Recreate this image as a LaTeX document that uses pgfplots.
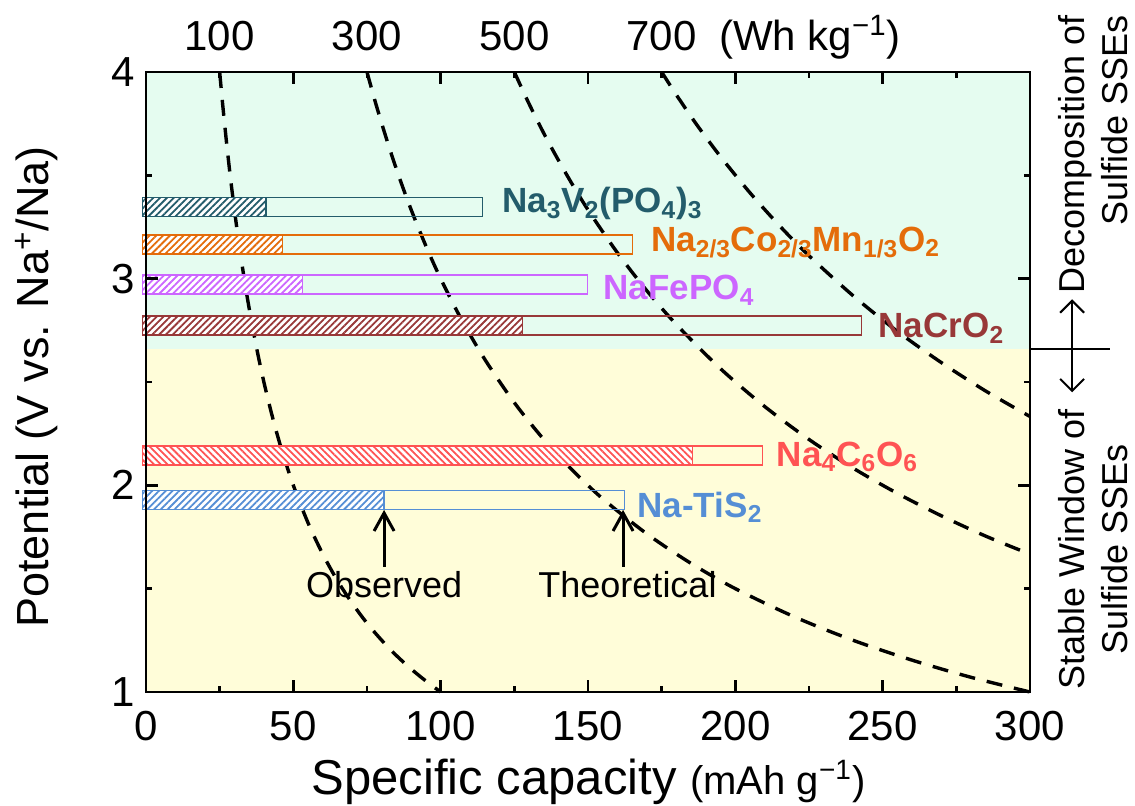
\documentclass[border=0pt]{standalone}
\usepackage{fontspec}
\setmainfont{Liberation Sans}
\usepackage{pgfplots}
\pgfplotsset{compat=1.18}
\usetikzlibrary{patterns.meta,arrows.meta}

\definecolor{bggreen}{HTML}{E5FCF0}
\definecolor{bgyellow}{HTML}{FFFDD9}
\definecolor{cnvp}{HTML}{235C6B}
\definecolor{corange}{HTML}{E46C0A}
\definecolor{cviolet}{HTML}{CC66FF}
\definecolor{cbrown}{HTML}{983838}
\definecolor{cred}{HTML}{FF5353}
\definecolor{cblue}{HTML}{558ED5}

% #1 low, #2 high, #3 observed, #4 theoretical, #5 colour, #6 hatch angle
\newcommand{\capbar}[6]{%
  \addplot[draw=#5, line width=0.6pt] coordinates {(-1.2,#1) (#4,#1) (#4,#2) (-1.2,#2)} -- cycle;
  \addplot[draw=#5, line width=0.6pt, preaction={fill=white},
    pattern={Lines[angle=#6,distance=2.4pt,line width=0.9pt]}, pattern color=#5]
    coordinates {(-1.2,#1) (#3,#1) (#3,#2) (-1.2,#2)} -- cycle;
}

\begin{document}
\begin{tikzpicture}
\path[use as bounding box] (-73pt,-57pt) rectangle (494.5pt,346pt);
\begin{axis}[
  at={(0pt,0pt)}, anchor=south west,
  scale only axis, width=442pt, height=310pt,
  xmin=0, xmax=300, ymin=1, ymax=4,
  xtick={0,50,...,300}, ytick={1,2,3,4},
  minor x tick num=1, minor y tick num=1,
  tick align=inside, major tick length=6pt, minor tick length=3pt,
  axis line style={line width=1.3pt},
  every tick/.style={black, line width=1.3pt},
  tick label style={font=\fontsize{21}{25}\selectfont},
  /pgf/number format/assume math mode=true,
  xticklabel style={yshift=-6pt},
  yticklabel style={xshift=-2pt},
  xlabel={\fontsize{24.5}{28}\selectfont Specific capacity {\fontsize{20}{24}\selectfont(mAh g\textsuperscript{−1})}},
  xlabel style={at={(axis description cs:0.5006,-0.166)}, anchor=base},
  ylabel={\fontsize{22.5}{26}\selectfont Potential (V vs. Na\textsuperscript{+}/Na)},
  ylabel style={at={(axis description cs:-0.110,0.492)}, anchor=base, rotate=0},
  axis on top=true,
  clip=false,
  no marks,
]
% backgrounds
\addplot[fill=bggreen, draw=none] coordinates {(0,2.66) (300,2.66) (300,4) (0,4)} -- cycle;
\addplot[fill=bgyellow, draw=none] coordinates {(0,1) (300,1) (300,2.66) (0,2.66)} -- cycle;

% energy-density curves (V = E / C)
\addplot[black, line width=1.7pt, dash pattern=on 8pt off 6pt, smooth] coordinates {
 (25,4) (26,3.846) (27.5,3.636) (29,3.448) (31,3.226) (33,3.030) (35,2.857) (37.5,2.667)
 (40,2.5) (43,2.326) (46,2.174) (50,2) (55,1.818) (60,1.667) (65,1.538) (70,1.429)
 (75,1.333) (80,1.25) (85,1.176) (90,1.111) (95,1.053) (100,1)};
\addplot[black, line width=1.7pt, dash pattern=on 8pt off 6pt, smooth] coordinates {
 (75,4) (78,3.846) (82,3.659) (86,3.488) (90,3.333) (95,3.158) (100,3) (107,2.804)
 (115,2.609) (125,2.4) (135,2.222) (145,2.069) (155,1.935) (170,1.765) (185,1.622)
 (200,1.5) (220,1.364) (240,1.25) (260,1.154) (280,1.071) (300,1)};
\addplot[black, line width=1.7pt, dash pattern=on 8pt off 6pt, smooth] coordinates {
 (125,4) (130,3.846) (136,3.676) (143,3.497) (150,3.333) (160,3.125) (170,2.941)
 (180,2.778) (195,2.564) (210,2.381) (225,2.222) (240,2.083) (255,1.961) (270,1.852)
 (285,1.754) (300,1.667)};
\addplot[black, line width=1.7pt, dash pattern=on 8pt off 6pt, smooth] coordinates {
 (175,4) (180,3.889) (187,3.743) (195,3.590) (205,3.415) (215,3.256) (225,3.111)
 (240,2.917) (255,2.745) (270,2.593) (285,2.456) (300,2.333)};

% capacity bars
\capbar{3.301}{3.393}{40.7}{114.1}{cnvp}{45}
\capbar{3.119}{3.211}{46.3}{165.0}{corange}{45}
\capbar{2.926}{3.018}{53.2}{149.8}{cviolet}{45}
\capbar{2.727}{2.819}{127.7}{242.9}{cbrown}{45}
\capbar{2.098}{2.190}{185.4}{209.1}{cred}{-45}
\capbar{1.883}{1.975}{80.8}{162.3}{cblue}{45}

% labels
\begin{scope}[every node/.style={inner sep=0pt, anchor=base west, font=\bfseries\fontsize{17.5}{20}\selectfont}]
\node[text=cnvp] at (axis cs:120.7,3.318) {Na\textsubscript{3}V\textsubscript{2}(PO\textsubscript{4})\textsubscript{3}};
\node[text=corange] at (axis cs:171.3,3.130) {Na\textsubscript{2/3}Co\textsubscript{2/3}Mn\textsubscript{1/3}O\textsubscript{2}};
\node[text=cviolet] at (axis cs:155.2,2.897) {NaFePO\textsubscript{4}};
\node[text=cbrown] at (axis cs:248.5,2.713) {NaCrO\textsubscript{2}};
\node[text=cred] at (axis cs:214.0,2.090) {Na\textsubscript{4}C\textsubscript{6}O\textsubscript{6}};
\node[text=cblue] at (axis cs:166.7,1.845) {Na-TiS\textsubscript{2}};
\end{scope}

% observed / theoretical arrows
\draw[line width=1.5pt, -{Straight Barb[length=9pt,width=10pt,line width=1.5pt]}] (axis cs:80.8,1.605) -- (axis cs:80.8,1.881);
\draw[line width=1.5pt, -{Straight Barb[length=9pt,width=10pt,line width=1.5pt]}] (axis cs:161.9,1.605) -- (axis cs:161.9,1.881);
\node[font=\fontsize{18}{21}\selectfont] at (axis cs:80.8,1.52) {Observed};
\node[font=\fontsize{18}{21}\selectfont] at (axis cs:163.4,1.52) {Theoretical};

% top energy labels
\begin{scope}[every node/.style={anchor=base, inner sep=0pt, font=\fontsize{21}{25}\selectfont}]
\node at (axis cs:25,4.105) {100};
\node at (axis cs:75,4.105) {300};
\node at (axis cs:125,4.105) {500};
\node at (axis cs:175,4.105) {700};
\node at (axis cs:225.3,4.105) {(Wh kg\textsuperscript{−1})};
\end{scope}

% right-side annotation
\draw[line width=1pt] (axis cs:300,2.66) -- (axis cs:327.1,2.66);
\draw[line width=1pt, {Straight Barb[length=6pt,width=12pt,line width=1pt]}-{Straight Barb[length=6pt,width=12pt,line width=1pt]}] (axis cs:314.3,2.45) -- (axis cs:314.3,2.90);
\node[rotate=90, anchor=west, align=right, inner sep=0pt, font=\fontsize{18}{21.5}\selectfont] at (axis cs:321.5,2.925) {Decomposition of\\Sulfide SSEs};
\node[rotate=90, anchor=west, align=center, inner sep=0pt, font=\fontsize{18}{21.5}\selectfont] at (axis cs:321.5,1.01) {Stable Window of\\Sulfide SSEs};
\end{axis}
\end{tikzpicture}
\end{document}
